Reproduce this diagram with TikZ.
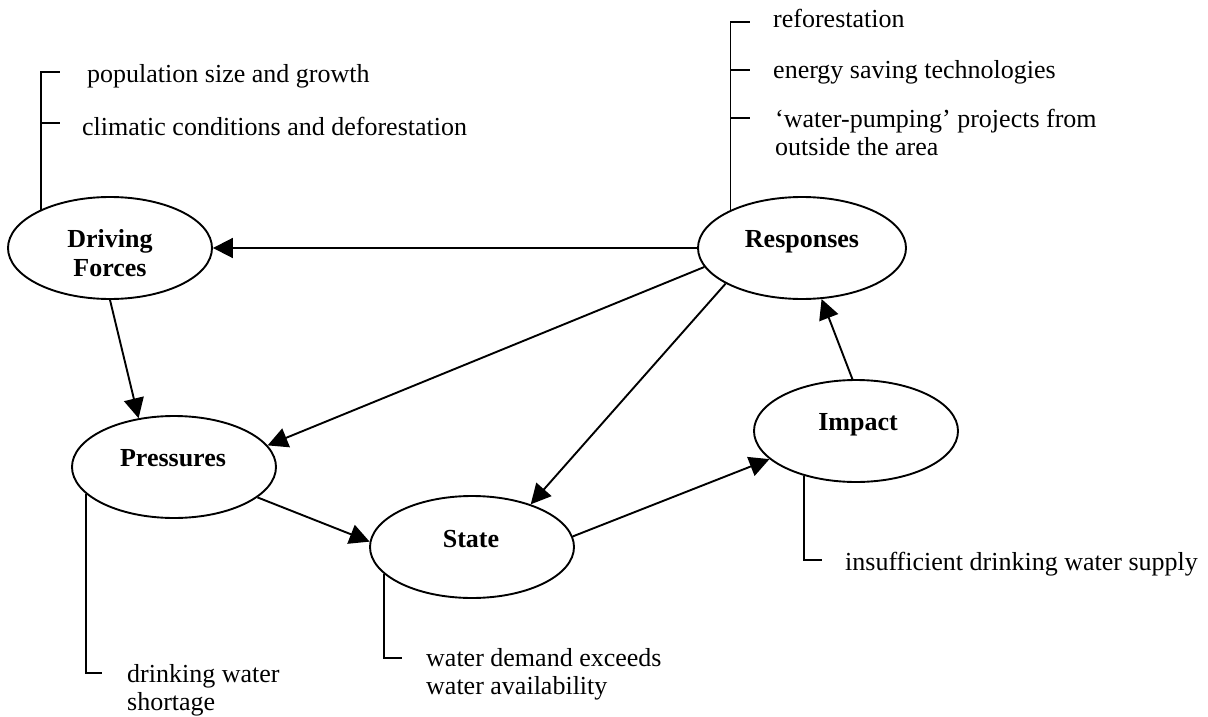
\documentclass[tikz,border=0pt]{standalone}
\usepackage{fontspec}
\setmainfont{Liberation Serif}[Ligatures=NoCommon]
\usetikzlibrary{arrows.meta,shapes.geometric}

\tikzset{
  stage/.style={draw, ellipse, line width=1.9pt, minimum width=204pt,
    minimum height=102pt, inner sep=0pt},
  stagelabel/.style={font=\fontsize{26}{29}\selectfont\bfseries, anchor=base,
    inner sep=0pt, align=center},
  note/.style={font=\fontsize{26}{28}\selectfont, anchor=base west,
    inner sep=0pt, align=left},
  flow/.style={line width=1.9pt, -{Triangle[length=20pt,width=20pt]}},
  bracket/.style={line width=1.9pt},
}

\begin{document}
\begin{tikzpicture}[x=1pt,y=-1pt]
\useasboundingbox (0,0) rectangle (1208,717);

% DPSIR stages
\node[stage] (df) at (110,248) {};
\node[stage] (pr) at (174,467) {};
\node[stage] (st) at (472,547) {};
\node[stage] (im) at (856,431) {};
\node[stage, minimum width=208pt] (re) at (802,248) {};

% stage names (base anchor = baseline of the last line)
\node[stagelabel] (dfT) at (110,276) {Driving\\Forces};
\node[stagelabel] (prT) at (173,466) {Pressures};
\node[stagelabel] (stT) at (471,547) {State};
\node[stagelabel] (imT) at (858,430) {Impact};
\node[stagelabel] (reT) at (802,247) {Responses};

% causal links
\draw[flow] (re.west) -- (df.east);
\draw[flow] (re.191) -- (pr.13);
\draw[flow] (re.205) -- (st.36);
\draw[flow] (df.270) -- (pr.126);
\draw[flow] (pr.340) -- (st.177);
\draw[flow] (st.6) -- (im.198);
\draw[flow] (im.94) -- (re.291);

% indicator lists
\node[note] (dfN1) at (87,83) {population size and growth};
\node[note] (dfN2) at (82,135) {climatic conditions and deforestation};
\node[note] (reN1) at (773,28) {reforestation};
\node[note] (reN2) at (773,78) {energy saving technologies};
\node[note] (reN3) at (775,155) {‘water-pumping’ projects from\\outside the area};
\node[note] (prN) at (127,710) {drinking water\\shortage};
\node[note] (stN) at (426,694) {water demand exceeds\\water availability};
\node[note] (imN) at (845,570) {insufficient drinking water supply};

% list brackets
\coordinate (dfK1) at (60,72);
\coordinate (dfK2) at (60,123);
\draw[bracket] (df.151) |- (dfK1);
\draw[bracket] (dfK2 -| df.151) -- (dfK2);

\coordinate (reK1) at (750,22);
\coordinate (reK2) at (750,70);
\coordinate (reK3) at (750,118);
\draw[bracket] (re.152) |- (reK1);
\draw[bracket] (reK2 -| re.152) -- (reK2);
\draw[bracket] (reK3 -| re.152) -- (reK3);

\coordinate (prK) at (102,673);
\draw[bracket] (pr.197) |- (prK);

\coordinate (stK) at (402,658);
\draw[bracket] (st.197) |- (stK);

\coordinate (imK) at (822,560);
\draw[bracket] (im.221) |- (imK);
\end{tikzpicture}
\end{document}
